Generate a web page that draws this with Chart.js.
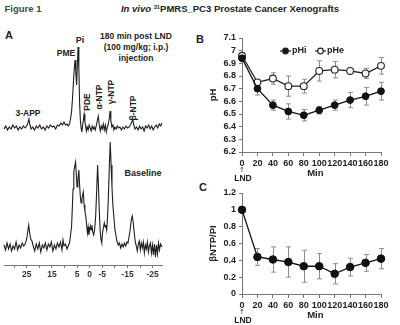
<!DOCTYPE html>
<html>
<head>
<meta charset="utf-8">
<script src="https://cdn.jsdelivr.net/npm/chart.js@4.4.1/dist/chart.umd.min.js"></script>
<style>
    body { margin: 0; width: 400px; height: 325px; position: relative; overflow: hidden; background: #fff;
           font-family: 'Liberation Sans', Arial, sans-serif; font-weight: bold; color: #222; }
    canvas { position: absolute; }
    .lbl { position: absolute; white-space: nowrap; line-height: 1; transform: translate(-50%, -50%); }
    .rot { transform: translate(-50%, -50%) rotate(-90deg); }
    sup { font-size: 0.6em; vertical-align: 0.55em; }
</style>
</head>
<body>
<div class="lbl" style="left:23px;top:9px;font-size:9.5px;color:#444">Figure 1</div>
<div class="lbl" style="left:230px;top:9px;font-size:9.5px"><i>In vivo</i> <sup>31</sup>PMRS_PC3 Prostate Cancer Xenografts</div>
<div class="lbl" style="left:9px;top:35px;font-size:11px">A</div>
<div class="lbl" style="left:200px;top:39px;font-size:11px">B</div>
<div class="lbl" style="left:203px;top:187px;font-size:11px">C</div>

<div class="lbl" style="left:80px;top:40px;font-size:9px">Pi</div>
<div class="lbl" style="left:66px;top:53px;font-size:8.5px">PME</div>
<div class="lbl" style="left:28px;top:113px;font-size:8.5px">3-APP</div>
<div class="lbl rot" style="left:87px;top:102px;font-size:8.5px">PDE</div>
<div class="lbl rot" style="left:99px;top:97px;font-size:8.5px">α-NTP</div>
<div class="lbl rot" style="left:111px;top:92px;font-size:8.5px">γ-NTP</div>
<div class="lbl rot" style="left:133px;top:108px;font-size:8.5px">β-NTP</div>
<div class="lbl" style="left:136px;top:36px;font-size:8.5px">180 min post LND</div>
<div class="lbl" style="left:136px;top:47px;font-size:8.5px">(100 mg/kg; i.p.)</div>
<div class="lbl" style="left:136px;top:58px;font-size:8.5px">injection</div>
<div class="lbl" style="left:143px;top:173px;font-size:9px">Baseline</div>

<canvas id="spec" width="200" height="252" style="left:0;top:30px"></canvas>
<canvas id="chartB" width="205" height="165" style="left:195px;top:28px"></canvas>
<canvas id="chartC" width="205" height="145" style="left:195px;top:180px"></canvas>

<script>
    // ---- data ----
    // panel A: 31P spectra, [ppm, intensity]
    const spec180 = [
        [34.0, -1], [33.3, 2], [32.6, -2], [31.9, 1], [31.2, -1], [30.5, 3], [29.8, 0], [29.1, 2], [28.4, -2], [27.7, 1],
        [27.0, -1], [26.3, 2], [25.6, 0], [25.0, 2], [24.5, 5], [24.1, 9], [23.7, 3], [23.2, -1], [22.6, 1], [21.9, -2],
        [21.2, 2], [20.5, 0], [19.8, 3], [19.1, -1], [18.4, 1], [17.7, -2], [17.0, 2], [16.3, 0], [15.6, 3], [14.9, 1],
        [14.2, 2], [13.5, -1], [12.8, 3], [12.1, 2], [11.4, 5], [10.8, 3], [10.2, 6], [9.6, 3], [9.0, 4], [8.5, 2],
        [8.0, 4], [7.6, 9], [7.2, 16], [6.8, 30], [6.4, 48], [6.1, 60], [5.8, 68], [5.5, 56], [5.2, 43], [4.9, 62],
        [4.6, 81], [4.3, 60], [4.0, 25], [3.7, 8], [3.4, 0], [3.1, -4], [2.8, 3], [2.5, 8], [2.2, 14], [1.9, 6],
        [1.6, 2], [1.3, -3], [1.0, 1], [0.6, -2], [0.2, 3], [-0.2, 0], [-0.6, -3], [-1.0, 2], [-1.4, -1], [-1.8, 1],
        [-2.2, -2], [-2.6, 2], [-3.0, 7], [-3.4, 12], [-3.8, 3], [-4.2, -3], [-4.6, 2], [-5.0, -1], [-5.4, 4], [-5.8, -2],
        [-6.2, 3], [-6.6, -4], [-7.0, 1], [-7.4, 4], [-7.8, 10], [-8.1, 17], [-8.4, 8], [-8.8, 1], [-9.2, 3], [-9.6, -2],
        [-10.0, 1], [-10.5, -1], [-11.0, 2], [-11.5, 0], [-12.0, 1], [-12.6, -2], [-13.2, 1], [-13.8, -1], [-14.4, 2], [-15.0, 0],
        [-15.6, 1], [-16.2, 3], [-16.7, 6], [-17.1, 9], [-17.5, 3], [-18.0, -1], [-18.6, 1], [-19.2, -2], [-19.8, 2], [-20.4, -1],
        [-21.0, 1], [-21.6, -3], [-22.2, 2], [-22.8, 0], [-23.4, 3], [-24.0, -1], [-24.6, 2], [-25.2, -2], [-25.8, 1], [-26.4, 3],
        [-27.0, 0], [-27.6, 4], [-28.2, 2], [-28.7, 5]
    ];
    const specBaseline = [
        [34.0, 2], [33.4, -3], [32.8, 4], [32.2, -2], [31.6, 3], [31.0, -4], [30.4, 1], [29.8, -2], [29.2, 5], [28.6, -3],
        [28.0, 2], [27.4, -1], [26.8, 4], [26.2, 1], [25.6, 3], [25.0, 8], [24.6, 15], [24.2, 22], [23.8, 14], [23.4, 8],
        [22.9, 6], [22.4, 1], [21.8, -4], [21.2, 3], [20.6, -2], [20.0, 4], [19.4, -5], [18.8, 2], [18.2, -1], [17.6, 4],
        [17.0, -3], [16.4, 3], [15.8, 0], [15.2, 5], [14.6, -4], [14.0, 2], [13.4, -2], [12.8, 4], [12.2, 0], [11.6, 5],
        [11.0, -3], [10.6, 7], [10.2, 1], [9.6, 3], [9.0, -2], [8.4, 2], [8.0, 4], [7.6, 12], [7.2, 20], [6.9, 38],
        [6.6, 58], [6.3, 75], [6.0, 80], [5.6, 85], [5.3, 72], [5.0, 60], [4.7, 66], [4.3, 77], [4.0, 62], [3.7, 50],
        [3.4, 44], [3.1, 48], [2.8, 52], [2.55, 55], [2.2, 42], [1.9, 36], [1.5, 30], [1.2, 22], [0.9, 14], [0.6, 20],
        [0.3, 12], [0.0, 17], [-0.3, 21], [-0.6, 17], [-0.9, 22], [-1.2, 15], [-1.6, 12], [-2.0, 18], [-2.4, 32], [-2.8, 58],
        [-3.15, 82], [-3.5, 60], [-3.9, 30], [-4.2, 15], [-4.5, 7], [-4.8, 4], [-5.1, 14], [-5.5, 20], [-5.8, 24], [-6.1, 20],
        [-6.4, 22], [-6.75, 17], [-7.1, 30], [-7.45, 52], [-7.8, 80], [-8.15, 105], [-8.5, 82], [-8.85, 60], [-9.2, 42], [-9.6, 30],
        [-10.0, 18], [-10.4, 12], [-10.8, 6], [-11.3, 2], [-11.8, 4], [-12.3, -1], [-12.8, 3], [-13.3, 0], [-13.8, 4], [-14.3, 1],
        [-14.8, 5], [-15.2, 4], [-15.6, 10], [-16.0, 16], [-16.5, 27], [-16.9, 31], [-17.3, 24], [-17.7, 14], [-18.1, 5], [-18.5, 1],
        [-18.9, -4], [-19.3, 3], [-19.7, 6], [-20.1, -3], [-20.5, 4], [-20.9, -1], [-21.3, 5], [-21.7, -6], [-22.1, 2], [-22.5, -2],
        [-22.9, 5], [-23.3, -5], [-23.7, 1], [-24.1, 4], [-24.5, -6], [-24.9, 2], [-25.3, -8], [-25.7, 3], [-26.1, -10], [-26.5, 2],
        [-26.9, -7], [-27.3, 4], [-27.7, -3], [-28.1, 3], [-28.7, 0]
    ];
    const ppmTicks = [30, 25, 20, 15, 10, 5, 0, -5, -10, -15, -20, -25];
    const ppmLabels = [25, 15, 5, 0, -5, -15, -25];

    // panels B and C
    const minutes = [0, 20, 40, 60, 80, 100, 120, 140, 160, 180];
    const pHTicks = [6.2, 6.3, 6.4, 6.5, 6.6, 6.7, 6.8, 6.9, 7.0, 7.1];
    const ratioTicks = [0, 0.2, 0.4, 0.6, 0.8, 1.0, 1.2];
    const pHi = [6.94, 6.70, 6.57, 6.52, 6.49, 6.53, 6.57, 6.61, 6.64, 6.68];
    const pHiErr = [0.02, 0.05, 0.04, 0.06, 0.045, 0.03, 0.04, 0.06, 0.07, 0.07];
    const pHe = [6.96, 6.75, 6.78, 6.72, 6.72, 6.84, 6.85, 6.84, 6.82, 6.88];
    const pHeErr = [0.02, 0.02, 0.045, 0.08, 0.055, 0.08, 0.065, 0.015, 0.04, 0.065];
    const ntpPi = [1.0, 0.44, 0.41, 0.38, 0.33, 0.33, 0.24, 0.32, 0.37, 0.42];
    const ntpPiErr = [0, 0.10, 0.15, 0.18, 0.19, 0.15, 0.12, 0.105, 0.10, 0.12];

    Chart.defaults.font.family = "'Liberation Sans', Arial, sans-serif";
    Chart.defaults.font.weight = 'bold';
    Chart.defaults.font.size = 9;
    Chart.defaults.color = '#222';

    const toXY = (xs, ys) => xs.map((x, i) => ({ x: x, y: ys[i] }));

    // error bars, drawn under the lines and markers
    const errorBars = {
        id: 'errorBars',
        beforeDatasetsDraw(chart) {
            const { ctx, scales: { x, y } } = chart;
            ctx.save();
            ctx.strokeStyle = '#8c8c8c';
            ctx.lineWidth = 1;
            chart.data.datasets.forEach(ds => {
                if (!ds.errors) return;
                ds.data.forEach((p, i) => {
                    const e = ds.errors[i];
                    if (!e) return;
                    const px = Math.round(x.getPixelForValue(p.x)) + 0.5;
                    const top = y.getPixelForValue(p.y + e);
                    const bot = y.getPixelForValue(p.y - e);
                    ctx.beginPath();
                    ctx.moveTo(px, top); ctx.lineTo(px, bot);
                    ctx.moveTo(px - 2.5, top); ctx.lineTo(px + 2.5, top);
                    ctx.moveTo(px - 2.5, bot); ctx.lineTo(px + 2.5, bot);
                    ctx.stroke();
                });
            });
            ctx.restore();
        }
    };

    // axis titles, LND arrow and legend
    const decor = {
        id: 'decor',
        afterDraw(chart, args, opts) {
            const { ctx, chartArea: a, scales: { x } } = chart;
            ctx.save();
            ctx.fillStyle = '#222';
            ctx.textAlign = 'center';
            ctx.textBaseline = 'middle';
            ctx.font = "bold 9.5px 'Liberation Sans', Arial";
            ctx.fillText('Min', x.getPixelForValue(95), a.bottom + 21);
            ctx.font = "bold 8.5px 'Liberation Sans', Arial";
            ctx.fillText('LND', x.getPixelForValue(0) + 1, a.bottom + 27);
            ctx.font = "7px 'DejaVu Sans', sans-serif";
            ctx.fillText('↑', x.getPixelForValue(0), a.bottom + 18);
            ctx.translate(a.left - 29, (a.top + a.bottom) / 2);
            ctx.rotate(-Math.PI / 2);
            ctx.font = "bold 9.5px 'Liberation Sans', Arial";
            ctx.fillText(opts.yTitle, 0, 0);
            ctx.restore();

            if (!opts.legend) return;
            ctx.save();
            ctx.font = "bold 9px 'Liberation Sans', Arial";
            ctx.textBaseline = 'middle';
            ctx.strokeStyle = '#222';
            ctx.lineWidth = 1.2;
            let lx = a.left + 38;
            const ly = a.top + 13;
            opts.legend.forEach(item => {
                ctx.beginPath();
                ctx.moveTo(lx, ly); ctx.lineTo(lx + 11, ly);
                ctx.stroke();
                ctx.beginPath();
                ctx.arc(lx + 5.5, ly, 2.8, 0, Math.PI * 2);
                ctx.fillStyle = item.fill;
                ctx.fill();
                ctx.stroke();
                ctx.fillStyle = '#222';
                ctx.fillText(item.text, lx + 12, ly);
                lx += 35;
            });
            ctx.restore();
        }
    };

    function timeScales(yTicks, xHeight) {
        return {
            x: {
                type: 'linear', min: 0, max: 180,
                afterBuildTicks: s => { s.ticks = minutes.map(v => ({ value: v })); },
                afterFit: s => { s.height = xHeight; },
                ticks: { autoSkip: false, maxRotation: 0, padding: 2 },
                grid: { drawOnChartArea: false, tickLength: 4, color: '#777' },
                border: { color: '#777' }
            },
            y: {
                min: yTicks[0], max: yTicks[yTicks.length - 1],
                afterBuildTicks: s => { s.ticks = yTicks.map(v => ({ value: v })); },
                afterFit: s => { s.width = 47; },
                ticks: { autoSkip: false, padding: 3, callback: v => String(Number(v.toFixed(2))) },
                grid: { drawOnChartArea: false, tickLength: 3, color: '#777' },
                border: { color: '#777' }
            }
        };
    }

    // panel A
    new Chart(document.getElementById('spec'), {
        type: 'line',
        data: {
            datasets: [{
                data: spec180.map(p => ({ x: p[0], y: p[1] })),
                yAxisID: 'yTop', borderColor: '#1e1e1e', borderWidth: 1.1, pointRadius: 0, clip: false
            }, {
                data: specBaseline.map(p => ({ x: p[0], y: p[1] })),
                yAxisID: 'yBase', borderColor: '#1e1e1e', borderWidth: 1.1, pointRadius: 0, clip: false
            }]
        },
        options: {
            responsive: false, animation: false,
            layout: { padding: { left: 4, right: 38, top: 0, bottom: 0 } },
            plugins: { legend: { display: false }, tooltip: { enabled: false } },
            scales: {
                x: {
                    type: 'linear', reverse: true, min: -28.7, max: 34,
                    afterBuildTicks: s => { s.ticks = ppmTicks.map(v => ({ value: v })); },
                    afterFit: s => { s.height = 17; },
                    ticks: {
                        autoSkip: false, maxRotation: 0, padding: 2, color: '#333', font: { size: 8.5 },
                        callback: v => ppmLabels.includes(v) ? String(v) : ''
                    },
                    grid: { drawOnChartArea: false, tickLength: 3, color: '#777' },
                    border: { color: '#777' }
                },
                yTop: { display: false, min: -137, max: 98 },
                yBase: { display: false, min: -18, max: 217 }
            }
        }
    });

    // panel B
    new Chart(document.getElementById('chartB'), {
        type: 'line',
        data: {
            datasets: [{
                label: 'pHi', data: toXY(minutes, pHi), errors: pHiErr,
                borderColor: '#111', borderWidth: 1.3, backgroundColor: '#111',
                pointRadius: 3.4, pointBorderWidth: 1, pointBackgroundColor: '#111', clip: false
            }, {
                label: 'pHe', data: toXY(minutes, pHe), errors: pHeErr,
                borderColor: '#222', borderWidth: 1.3,
                pointRadius: 3.4, pointBorderWidth: 1.1, pointBackgroundColor: '#fff', clip: false
            }]
        },
        options: {
            responsive: false, animation: false,
            layout: { padding: { left: 0, right: 19, top: 10, bottom: 0 } },
            plugins: {
                legend: { display: false }, tooltip: { enabled: false },
                decor: { yTitle: 'pH', legend: [{ text: 'pHi', fill: '#111' }, { text: 'pHe', fill: '#fff' }] }
            },
            scales: timeScales(pHTicks, 41)
        },
        plugins: [errorBars, decor]
    });

    // panel C
    new Chart(document.getElementById('chartC'), {
        type: 'line',
        data: {
            datasets: [{
                label: 'βNTP/PI', data: toXY(minutes, ntpPi), errors: ntpPiErr,
                borderColor: '#111', borderWidth: 1.3,
                pointRadius: 3.8, pointBorderWidth: 1, pointBackgroundColor: '#111', clip: false
            }]
        },
        options: {
            responsive: false, animation: false,
            layout: { padding: { left: 0, right: 19, top: 13, bottom: 0 } },
            plugins: {
                legend: { display: false }, tooltip: { enabled: false },
                decor: { yTitle: 'βNTP/PI' }
            },
            scales: timeScales(ratioTicks, 31)
        },
        plugins: [errorBars, decor]
    });
</script>
</body>
</html>
